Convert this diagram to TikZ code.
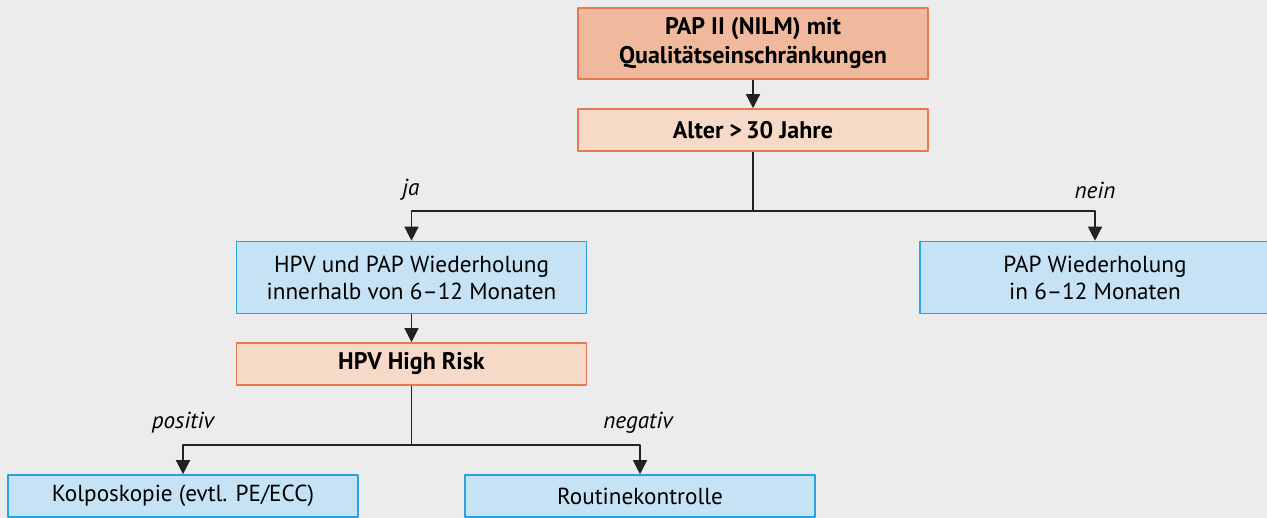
\documentclass[tikz,border=0pt]{standalone}
\usepackage{fontspec}
\setmainfont{PT Sans}
\usetikzlibrary{arrows.meta}
\usetikzlibrary{positioning}

\definecolor{bggrey}{HTML}{EBECEB}
\definecolor{salmondark}{HTML}{F0B89D}
\definecolor{salmonlight}{HTML}{F7D9C8}
\definecolor{salmonline}{HTML}{E57A52}
\definecolor{bluefill}{HTML}{C6E2F5}
\definecolor{blueline}{HTML}{27A3DE}
\definecolor{arrowgrey}{HTML}{222222}

\tikzset{
  boxtop/.style={draw=salmonline,fill=salmondark,line width=0.8pt,minimum width=175pt,minimum height=35.5pt,inner sep=0pt,align=center,font=\fontsize{12}{14.5}\selectfont\bfseries},
  boxquery/.style={draw=salmonline,fill=salmonlight,line width=0.8pt,minimum width=175pt,minimum height=21pt,inner sep=0pt,align=center,font=\fontsize{12}{14.5}\selectfont\bfseries},
  boxaction/.style={draw=blueline,fill=bluefill,line width=0.8pt,minimum width=175pt,minimum height=21pt,inner sep=0pt,align=center},
  answer/.style={font=\fontsize{11.6}{14}\selectfont\itshape},
  link/.style={draw=arrowgrey,line width=0.65pt},
}

\begin{document}
\begin{tikzpicture}[x=0.5pt,y=-0.5pt,line join=round,>={Triangle[length=7pt,width=7pt]},font=\fontsize{11.6}{13.5}\selectfont]
        \useasboundingbox[fill=bggrey] (0,0) rectangle (1267,518);
        % 
        \node[boxtop] (pap) at (753,43.5) {PAP II (NILM) mit\\Qualitätseinschränkungen};
        \node[boxquery] (alter) at (753,130) {Alter \textgreater\,30 Jahre};
        % 
        \node[boxaction,minimum height=36pt] (hpvpap) at (411.5,277.5) {HPV und PAP Wiederholung\\innerhalb von 6–12 Monaten};
        \node[boxaction,minimum height=36pt] (papwdh) at (1095,277.5) {PAP Wiederholung\\in 6–12 Monaten};
        \node[boxquery] (risk) at (411.5,364) {HPV High Risk};
        % 
        \node[boxaction] (kolpo) at (183,496) {Kolposkopie (evtl. PE/ECC)};
        \node[boxaction] (routine) at (640,496) {Routinekontrolle};
        % 
        \coordinate (forkalter) at (753,211);
        \coordinate (forkrisk) at (411.5,445);
        % 
        \draw[link,->] (pap) -- (alter);
        \draw[link] (alter) -- (forkalter);
        \draw[link,->] (forkalter) -| (hpvpap);
        \draw[link,->] (forkalter) -| (papwdh);
        \draw[link,->] (hpvpap) -- (risk);
        \draw[link] (risk) -- (forkrisk);
        \draw[link,->] (forkrisk) -| (kolpo);
        \draw[link,->] (forkrisk) -| (routine);
        % 
        \node[answer] (ja) at (411,190) {ja};
        \node[answer] (nein) at (1095,190) {nein};
        \node[answer] (positiv) at (183,423) {positiv};
        \node[answer] (negativ) at (638,423) {negativ};
      \end{tikzpicture}
\end{document}
